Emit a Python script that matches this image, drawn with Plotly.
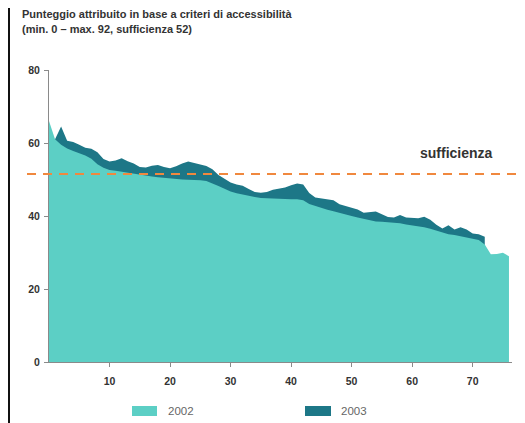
import plotly.graph_objects as go

# ---- data ----
x2002 = list(range(0, 77))
y2002 = [66, 61, 59.5, 58.5, 57.8, 57.2, 56.6, 55.7, 54.2, 53.2,
         52.6, 52.4, 52.1, 51.9, 51.7, 51.2, 50.9, 50.8, 50.6, 50.4,
         50.2, 50.0, 50.0, 49.9, 49.9, 49.8, 49.6, 49.0, 48.2, 47.5,
         46.7, 46.2, 45.8, 45.5, 45.2, 44.9, 44.8, 44.7, 44.6, 44.6,
         44.6, 44.6, 44.3, 43.3, 42.7, 42.2, 41.7, 41.3, 40.8, 40.4,
         40.0, 39.6, 39.2, 38.8, 38.5, 38.4, 38.3, 38.2, 38.0, 37.7,
         37.5, 37.2, 36.9, 36.5, 36.0, 35.4, 35.0, 34.8, 34.5, 34.2,
         33.8, 33.4, 32.2, 29.5, 29.6, 29.9, 29.0]

x2003 = list(range(1, 73))
y2003 = [61, 64.5, 60.6, 60.3, 59.5, 58.7, 58.4, 57.5, 55.6, 54.9,
         55.2, 55.8, 55.0, 54.4, 53.4, 53.3, 53.8, 54.0, 53.4, 53.1,
         53.6, 54.4, 54.9, 54.6, 54.1, 53.7, 52.8, 51.2, 50.3, 49.2,
         48.6, 48.3, 47.4, 46.6, 46.4, 46.6, 47.2, 47.5, 47.8, 48.4,
         48.9, 48.6, 46.3, 45.1, 44.8, 44.7, 44.3, 43.2, 42.8, 42.4,
         41.8, 40.9, 41.0, 41.2, 40.5, 39.7, 39.6, 40.3, 39.6, 39.4,
         39.4, 39.8, 39.0, 37.6, 36.6, 37.5, 36.3, 36.9, 36.3, 35.2,
         35.0, 34.3]

SUFFICIENZA = 51.5
series_names = ["2002", "2003"]
x_ticks = [10, 20, 30, 40, 50, 60, 70]
y_ticks = [0, 20, 40, 60, 80]

C2002 = "#5ccfc5"
C2003 = "#1d7787"
CORANGE = "#f0883e"
FONT = "Liberation Sans, Arial, sans-serif"

fig = go.Figure()
fig.add_trace(go.Scatter(x=x2003, y=y2003, name=series_names[1], mode="lines",
                         line=dict(width=0, color=C2003), fill="tozeroy",
                         fillcolor=C2003, showlegend=False, hoverinfo="x+y"))
fig.add_trace(go.Scatter(x=x2002, y=y2002, name=series_names[0], mode="lines",
                         line=dict(width=0, color=C2002), fill="tozeroy",
                         fillcolor=C2002, showlegend=False, hoverinfo="x+y"))

# page is offset by the 8px body margin; work in page pixels and convert
OFF = 8
W, H = 525 - OFF, 423 - OFF
L, T = 49 - OFF, 70 - OFF
R = W - (512 - OFF)
B = H - (362 - OFF)
pw, ph = W - L - R, H - T - B

def px_to_paper_x(px):
    return (px - OFF - L) / pw

def py_to_paper_y(py):
    return (H - B - (py - OFF)) / ph

shapes = []
shapes.append(dict(type="line", xref="paper", yref="y",
                   x0=px_to_paper_x(27), x1=px_to_paper_x(525),
                   y0=SUFFICIENZA, y1=SUFFICIENZA,
                   line=dict(color=CORANGE, width=2, dash="9px,7px")))
shapes.append(dict(type="line", xref="paper", yref="paper",
                   x0=px_to_paper_x(9), x1=px_to_paper_x(9),
                   y0=py_to_paper_y(8), y1=py_to_paper_y(423),
                   line=dict(color="#111111", width=2)))
for (x0, x1, col) in [(132, 157, C2002), (305, 331, C2003)]:
    shapes.append(dict(type="rect", xref="paper", yref="paper",
                       x0=px_to_paper_x(x0), x1=px_to_paper_x(x1),
                       y0=py_to_paper_y(416), y1=py_to_paper_y(406),
                       fillcolor=col, line=dict(width=0)))

annotations = [
    dict(text="<b>sufficienza</b>", x=67.4, y=57.3, xref="x", yref="y",
         showarrow=False, font=dict(family=FONT, size=14, color="#333333")),
    dict(text=series_names[0], x=px_to_paper_x(166), y=py_to_paper_y(411),
         xref="paper", yref="paper", xanchor="left", yanchor="middle",
         showarrow=False, font=dict(family=FONT, size=11.5, color="#666666")),
    dict(text=series_names[1], x=px_to_paper_x(339), y=py_to_paper_y(411),
         xref="paper", yref="paper", xanchor="left", yanchor="middle",
         showarrow=False, font=dict(family=FONT, size=11.5, color="#666666")),
    dict(text="<b>Punteggio attribuito in base a criteri di accessibilità</b>",
         x=px_to_paper_x(20), y=py_to_paper_y(14), xref="paper", yref="paper",
         xanchor="left", yanchor="middle", showarrow=False,
         font=dict(family=FONT, size=11, color="#333333")),
    dict(text="<b>(min. 0 – max. 92, sufficienza 52)</b>",
         x=px_to_paper_x(20), y=py_to_paper_y(29), xref="paper", yref="paper",
         xanchor="left", yanchor="middle", showarrow=False,
         font=dict(family=FONT, size=11, color="#333333")),
]

fig.update_layout(
    width=W, height=H,
    margin=dict(l=L, r=R, t=T, b=B),
    paper_bgcolor="white", plot_bgcolor="white",
    shapes=shapes,
    annotations=annotations,
    showlegend=False,
    xaxis=dict(range=[0, 76.5], tickvals=x_ticks, showgrid=False, zeroline=False,
               showline=True, linecolor="#8a8a8a", linewidth=1,
               ticks="outside", ticklen=4, tickcolor="#8a8a8a",
               ticklabelstandoff=5,
               tickfont=dict(family=FONT, size=10.5, color="#333333", weight="bold")),
    yaxis=dict(range=[0, 80], tickvals=y_ticks, showgrid=False, zeroline=False,
               showline=True, linecolor="#8a8a8a", linewidth=1,
               ticks="outside", ticklen=4, tickcolor="#8a8a8a",
               ticklabelstandoff=2,
               tickfont=dict(family=FONT, size=10.5, color="#333333", weight="bold")),
)

fig.write_html("out.html")
